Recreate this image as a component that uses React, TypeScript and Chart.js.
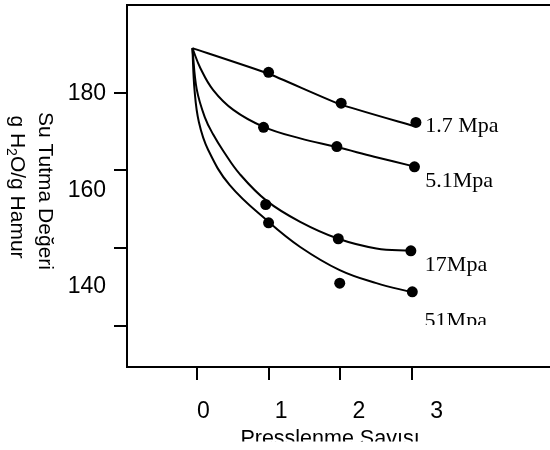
import React, { useEffect, useRef } from 'react';
import { Chart, registerables } from 'chart.js';

Chart.register(...registerables);

// ---- data ----
const seriesNames = ['1.7 Mpa', '5.1Mpa', '17Mpa', '51Mpa'];
const xTickValues = [0, 1, 2, 3];
const yTickLabelValues = [140, 160, 180];
const yTickMarkValues = [120, 140, 160, 180];

// measured points
const pointsX_1_7 = [1.0, 2.01, 3.05];
const pointsY_1_7 = [184.5, 178.1, 174.1];
const pointsX_5_1 = [0.93, 1.95, 3.03];
const pointsY_5_1 = [173.1, 169.1, 164.9];
const pointsX_17 = [0.96, 1.97, 2.98];
const pointsY_17 = [157.1, 150.0, 147.5];
const pointsX_51 = [1.0, 1.99, 3.0];
const pointsY_51 = [153.3, 140.8, 139.0];

// fitted curves
const fitX_1_7 = [-0.06, 1.0, 1.99, 3.01];
const fitY_1_7 = [189.5, 184.2, 177.9, 173.4];
const fitX_5_1 = [-0.06, 0.05, 0.23, 0.51, 0.93, 1.44, 1.95, 2.47, 2.99];
const fitY_5_1 = [189.5, 185.4, 180.8, 176.7, 173.2, 170.8, 169.0, 167.0, 165.1];
const fitX_17 = [-0.06, 0.0, 0.115, 0.23, 0.37, 0.6, 0.97, 1.44, 1.97, 2.5, 2.98];
const fitY_17 = [189.5, 181.0, 175.1, 171.6, 168.2, 163.4, 157.9, 153.5, 150.0, 148.0, 147.5];
const fitX_51 = [-0.06, -0.03, 0.03, 0.16, 0.46, 1.0, 1.44, 1.99, 2.5, 3.0];
const fitY_51 = [189.5, 180.8, 174.2, 168.4, 161.1, 153.5, 148.3, 143.5, 140.8, 138.9];

const yTitleLine1 = 'Su Tutma Değeri';
const yTitleLine2Parts = [
  { text: 'g H', sub: false },
  { text: '2', sub: true },
  { text: 'O/g Hamur', sub: false },
];
const xTitle = 'Presslenme Sayısı';

const zip = (xs: number[], ys: number[]) => xs.map((x, i) => ({ x, y: ys[i] }));

const fits = [
  zip(fitX_1_7, fitY_1_7),
  zip(fitX_5_1, fitY_5_1),
  zip(fitX_17, fitY_17),
  zip(fitX_51, fitY_51),
];
const fitTension = [0.15, 0.4, 0.4, 0.4];
const points = [
  zip(pointsX_1_7, pointsY_1_7),
  zip(pointsX_5_1, pointsY_5_1),
  zip(pointsX_17, pointsY_17),
  zip(pointsX_51, pointsY_51),
];

const SANS = "'Liberation Sans', Arial, sans-serif";
const SERIF = "'Liberation Serif', 'Times New Roman', serif";

// label offsets from each series' last point (px), optional clip bottom
const labelPlacement = [
  { dx: 9.3, dy: 10, clip: null as number | null },
  { dx: 10.7, dy: 20.3, clip: null as number | null },
  { dx: 14, dy: 20, clip: null as number | null },
  { dx: 12.3, dy: 35.3, clip: 325 as number | null },
];

const zeroPad = (s: any) => {
  s.paddingTop = 0;
  s.paddingBottom = 0;
  s.paddingLeft = 0;
  s.paddingRight = 0;
};

const decorPlugin = {
  id: 'decor',
  afterDraw(chart: any) {
    const ctx: CanvasRenderingContext2D = chart.ctx;
    const { left, top, right, bottom } = chart.chartArea;
    ctx.save();
    // frame (left, top, bottom)
    ctx.strokeStyle = '#000';
    ctx.lineWidth = 2;
    ctx.lineCap = 'square';
    ctx.beginPath();
    ctx.moveTo(right + 2, top);
    ctx.lineTo(left, top);
    ctx.lineTo(left, bottom);
    ctx.lineTo(right + 2, bottom);
    ctx.stroke();

    // series labels
    ctx.fillStyle = '#000';
    ctx.font = `22px ${SERIF}`;
    ctx.textAlign = 'left';
    ctx.textBaseline = 'alphabetic';
    seriesNames.forEach((name, i) => {
      const meta = chart.getDatasetMeta(4 + i);
      const el = meta.data[meta.data.length - 1];
      const p = labelPlacement[i];
      ctx.save();
      if (p.clip !== null) {
        ctx.beginPath();
        ctx.rect(0, 0, chart.width, p.clip);
        ctx.clip();
      }
      ctx.fillText(name, el.x + p.dx, el.y + p.dy);
      ctx.restore();
    });

    // y title, rotated clockwise
    const yMid = (top + bottom) / 2;
    ctx.save();
    ctx.translate(38.5, yMid + 5);
    ctx.rotate(Math.PI / 2);
    ctx.font = `21px ${SANS}`;
    ctx.textAlign = 'center';
    ctx.fillText(yTitleLine1, 0, 0);
    ctx.restore();

    ctx.save();
    ctx.translate(10.5, yMid + 1);
    ctx.rotate(Math.PI / 2);
    ctx.textAlign = 'left';
    const mainFont = `21px ${SANS}`;
    const subFont = `14px ${SANS}`;
    let total = 0;
    yTitleLine2Parts.forEach((part) => {
      ctx.font = part.sub ? subFont : mainFont;
      total += ctx.measureText(part.text).width;
    });
    let cx = -total / 2;
    yTitleLine2Parts.forEach((part) => {
      ctx.font = part.sub ? subFont : mainFont;
      ctx.fillText(part.text, cx, part.sub ? 4 : 0);
      cx += ctx.measureText(part.text).width;
    });
    ctx.restore();

    // x title, clipped at its lower part
    ctx.save();
    ctx.beginPath();
    ctx.rect(0, 0, chart.width, 441.5);
    ctx.clip();
    ctx.font = `21.5px ${SANS}`;
    ctx.textAlign = 'center';
    ctx.fillText(xTitle, 330, 444.5);
    ctx.restore();

    ctx.restore();
  },
};

export default function App() {
  const ref = useRef<HTMLCanvasElement>(null);
  useEffect(() => {
    document.body.style.margin = '0';
    Chart.defaults.font.family = SANS;
    const datasets: any[] = [];
    fits.forEach((d, i) => {
      datasets.push({
        type: 'scatter',
        data: d,
        showLine: true,
        borderColor: '#000',
        borderWidth: 2,
        pointRadius: 0,
        tension: fitTension[i],
        xAxisID: 'x',
        yAxisID: 'y',
      });
    });
    points.forEach((d) => {
      datasets.push({
        type: 'scatter',
        data: d,
        showLine: false,
        backgroundColor: '#000',
        borderColor: '#000',
        borderWidth: 0,
        pointRadius: 5.5,
        xAxisID: 'x',
        yAxisID: 'y',
      });
    });

    const chart = new Chart(ref.current as HTMLCanvasElement, {
      type: 'scatter',
      data: { datasets },
      options: {
        responsive: false,
        animation: false,
        devicePixelRatio: 1,
        events: [],
        layout: { autoPadding: false, padding: { top: 5, right: 0, left: 0, bottom: 0 } },
        plugins: {
          legend: { display: false },
          tooltip: { enabled: false },
        },
        scales: {
          x: {
            type: 'linear',
            position: 'bottom',
            weight: 0,
            min: -0.9699,
            max: 4.916,
            grid: {
              display: true,
              drawOnChartArea: false,
              drawTicks: true,
              tickLength: 13,
              color: '#000',
              lineWidth: 2,
            },
            border: { display: false },
            ticks: { display: false },
            afterBuildTicks: (s: any) => {
              s.ticks = xTickValues.map((v) => ({ value: v }));
            },
            afterFit: (s: any) => {
              s.height = 13;
              zeroPad(s);
            },
          },
          xl: {
            type: 'linear',
            position: 'bottom',
            weight: 1,
            min: -0.9807,
            max: 4.456,
            grid: { display: false, drawTicks: false },
            border: { display: false },
            ticks: {
              color: '#000',
              font: { family: SANS, size: 23 },
              padding: 18,
              maxRotation: 0,
              autoSkip: false,
              callback: (v: any) => String(v),
            },
            afterBuildTicks: (s: any) => {
              s.ticks = xTickValues.map((v) => ({ value: v }));
            },
            afterFit: (s: any) => {
              s.height = 70;
              zeroPad(s);
            },
          },
          yT: {
            type: 'linear',
            position: 'left',
            weight: 0,
            min: 109.456,
            max: 202.555,
            grid: {
              display: true,
              drawOnChartArea: false,
              drawTicks: true,
              tickLength: 13,
              color: '#000',
              lineWidth: 2,
            },
            border: { display: false },
            ticks: { display: false },
            afterBuildTicks: (s: any) => {
              s.ticks = yTickMarkValues.map((v) => ({ value: v }));
            },
            afterFit: (s: any) => {
              s.width = 14;
              zeroPad(s);
            },
          },
          y: {
            type: 'linear',
            position: 'left',
            weight: 1,
            min: 123.42,
            max: 198.446,
            grid: { display: false, drawTicks: false },
            border: { display: false },
            ticks: {
              color: '#000',
              font: { family: SANS, size: 23 },
              padding: 7,
              callback: (v: any) => String(v),
            },
            afterBuildTicks: (s: any) => {
              s.ticks = yTickLabelValues.map((v) => ({ value: v }));
            },
            afterFit: (s: any) => {
              s.width = 113;
              zeroPad(s);
            },
          },
        },
      } as any,
      plugins: [decorPlugin],
    });
    return () => chart.destroy();
  }, []);

  return (
    <div style={{ width: 550, height: 450 }}>
      <canvas ref={ref} width={550} height={450} style={{ display: 'block' }} />
    </div>
  );
}
